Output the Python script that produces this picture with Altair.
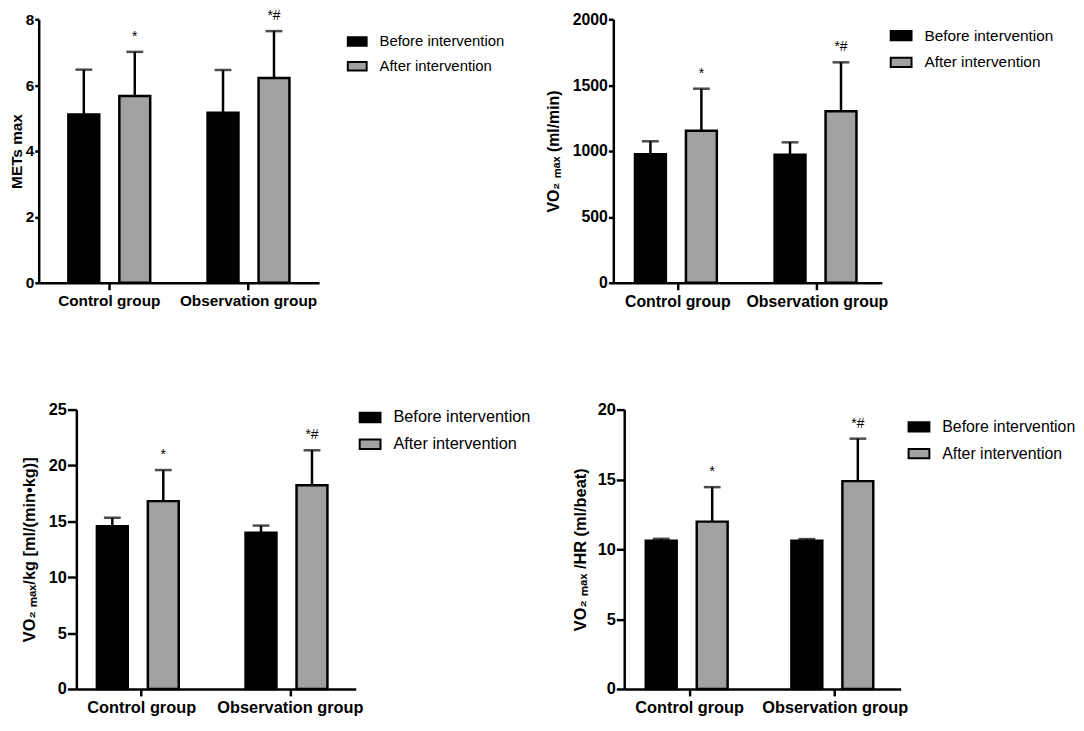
import altair as alt
import pandas as pd

FONT = "Liberation Sans"

groups = ["Control group", "Observation group"]
times = ["Before intervention", "After intervention"]

# order: Control-Before, Control-After, Observation-Before, Observation-After
mets_mean = [5.11, 5.67, 5.16, 6.22]
mets_err = [6.47, 7.01, 6.46, 7.64]
vo2_mean = [976, 1154, 971, 1301]
vo2_err = [1074, 1473, 1066, 1673]
vo2kg_mean = [14.56, 16.81, 13.97, 18.23]
vo2kg_err = [15.33, 19.59, 14.62, 21.36]
vo2hr_mean = [10.61, 11.98, 10.61, 14.88]
vo2hr_err = [10.75, 14.45, 10.73, 17.92]
sig = ["", "*", "", "*#"]

colors = ["#000000", "#a1a1a4"]


def panel(mean, err, title, ymax, ystep, w, h, fs, pi, po, pio,
          tick_y, tp, lx, ly, lfs, sym):
    df = pd.DataFrame({
        "group": [g for g in groups for _ in times],
        "time": times * 2,
        "mean": mean,
        "err": err,
        "sig": sig,
    })
    x = alt.X("group:N", sort=groups,
              scale=alt.Scale(paddingInner=pi, paddingOuter=po),
              axis=alt.Axis(title=None, labelAngle=0, labelFontSize=fs,
                            labelFont=FONT, labelFontWeight="bold",
                            labelColor="black", domainColor="black",
                            domainWidth=2.5, tickColor="black", tickWidth=2.5,
                            tickSize=7, labelPadding=4))
    xo = alt.XOffset("time:N", sort=times,
                     scale=alt.Scale(paddingInner=pio, paddingOuter=0))
    yscale = alt.Scale(domain=[0, ymax], nice=False)
    yaxis = alt.Axis(title=title, values=list(range(0, ymax + 1, ystep)),
                     format="d", grid=False, labelFont=FONT, labelFontSize=fs,
                     labelFontWeight="bold", labelColor="black",
                     titleFont=FONT, titleFontSize=fs,
                     titleFontWeight="bold", titleColor="black",
                     titlePadding=tp, domainColor="black",
                     domainWidth=2.5, tickColor="black", tickWidth=2.5,
                     tickSize=tick_y, labelPadding=1)
    base = alt.Chart(df).encode(x=x, xOffset=xo)
    rules = base.mark_rule(color="black", strokeWidth=2.5).encode(
        y=alt.Y("mean:Q", scale=yscale, axis=yaxis), y2="err:Q")
    caps = base.mark_tick(color="black", thickness=2.5, size=17,
                          orient="horizontal").encode(
        y=alt.Y("err:Q", scale=yscale))
    bars = base.mark_bar(stroke="black", strokeWidth=2.5).encode(
        y=alt.Y("mean:Q", scale=yscale),
        color=alt.Color("time:N", sort=times,
                        scale=alt.Scale(domain=times, range=colors),
                        legend=alt.Legend(title=None, orient="none",
                                          legendX=lx, legendY=ly,
                                          labelFont=FONT, labelFontSize=lfs,
                                          labelColor="black",
                                          symbolType="M-1,-0.45H1V0.45H-1Z",
                                          symbolSize=sym,
                                          symbolStrokeColor="black",
                                          symbolStrokeWidth=2,
                                          labelOffset=12, rowPadding=6,
                                          padding=0, symbolOffset=0)),
    )
    text = base.mark_text(baseline="alphabetic", dy=-11, fontSize=14,
                          font=FONT, color="black").encode(
        y=alt.Y("err:Q", scale=yscale), text="sig:N")
    return alt.layer(rules, caps, bars, text).properties(width=w, height=h)


def spacer(w):
    return alt.Chart(pd.DataFrame({"a": [0]})).mark_text(text="").encode(
        x=alt.value(0), y=alt.value(0)).properties(width=w, height=10)


p1 = panel(mets_mean, mets_err, "METs max", 8, 2, 283, 266, 15.5,
           0.412, 0.213, 0.394, 4, 1, 311, 12, 15, 361)
p2 = panel(vo2_mean, vo2_err, "VO₂ ₘₐₓ (ml/min)", 2000, 500, 271, 266, 16,
           0.387, 0.155, 0.398, 5, 11, 279, 5, 15.5, 441)
p3 = panel(vo2kg_mean, vo2kg_err, "VO₂ ₘₐₓ/kg [ml/(min•kg)]", 25, 5, 282, 282,
           16.5, 0.397, 0.138, 0.398, 9, 11, 285, -3.5, 16.5, 441)
p4 = panel(vo2hr_mean, vo2hr_err, "VO₂ ₘₐₓ /HR (ml/beat)", 20, 5, 279, 282,
           16.5, 0.398, 0.148, 0.391, 8, 9, 286, 6, 16, 441)

inner1 = alt.hconcat(p1, p2, spacing=41).resolve_scale(color="independent")
row1 = alt.hconcat(spacer(1), inner1, spacing=0).resolve_scale(color="independent")
inner2 = alt.hconcat(p3, p4, spacing=41).resolve_scale(color="independent")
row2 = alt.hconcat(spacer(13), inner2, spacing=0).resolve_scale(color="independent")

chart = alt.vconcat(row1, row2, spacing=93).resolve_scale(
    color="independent"
).properties(
    padding={"left": 0, "top": -3, "right": 0, "bottom": 5}
).configure(font=FONT, background="white").configure_view(stroke=None)

chart.save("out.html", embed_options={"renderer": "svg", "actions": False})
